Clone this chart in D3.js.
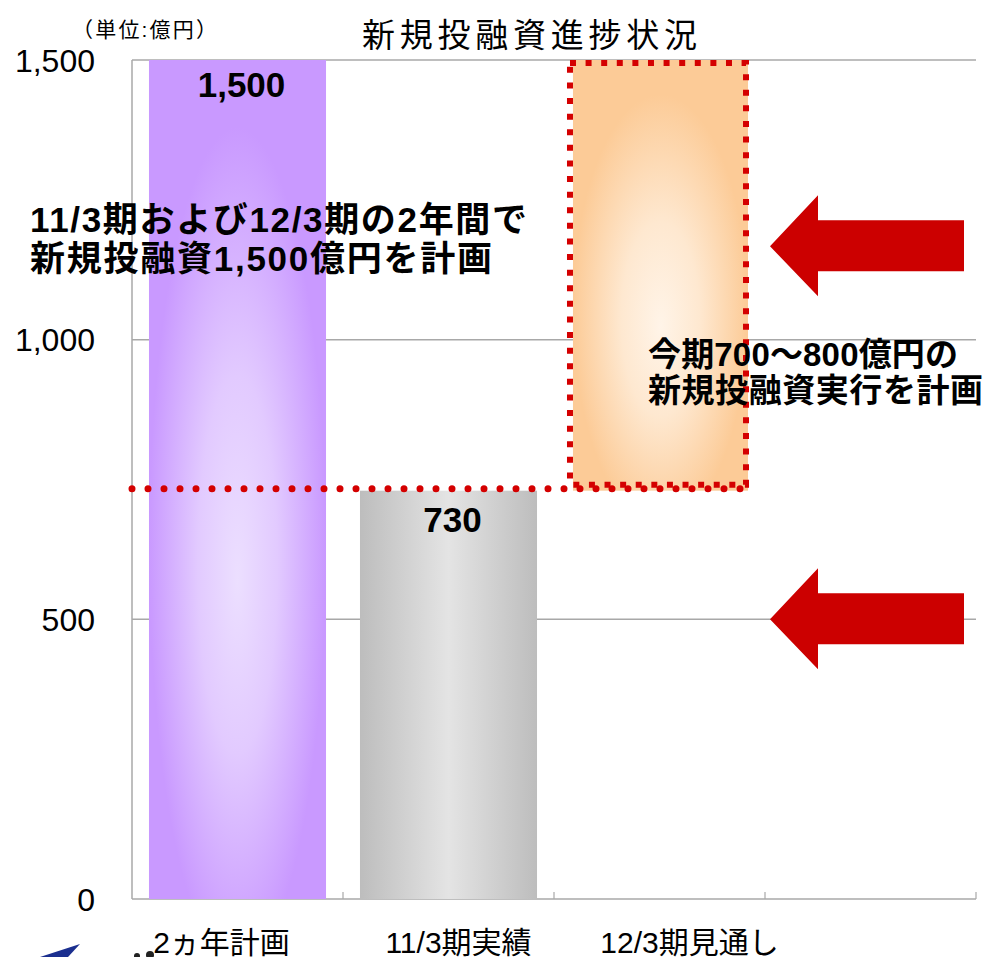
<!DOCTYPE html>
<html><head><meta charset="utf-8">
<script src="https://cdn.jsdelivr.net/npm/d3@7"></script>
<style>body{margin:0;background:#fff} svg{display:block}</style>
</head><body><svg id="c" width="989" height="957"></svg>
<script>
// ---- data ----
const slots = ["plan", "actual", "forecast", "blank"];
const catLabels = ["2ヵ年計画", "11/3期実績", "12/3期見通し"];
const planValue = [1500];
const actualValue = [730];
const forecastRange = [730, 1500];
const yTicks = [0, 500, 1000, 1500];
const tickLabels = ["0", "500", "1,000", "1,500"];
const valueLabels = ["1,500", "730"];
const titleText = "新規投融資進捗状況";
const unitText = "（単位:億円）";
const note1 = ["11/3期および12/3期の2年間で", "新規投融資1,500億円を計画"];
const note2 = ["今期700～800億円の", "新規投融資実行を計画"];
const arrowValues = [1167, 500];

// ---- setup ----
const svg = d3.select("#c");
const FONT = "'Liberation Sans','Noto Sans CJK JP',sans-serif";
const x = d3.scaleBand().domain(slots).range([132, 976]).paddingInner(0.161).paddingOuter(0.0805);
const y = d3.scaleLinear().domain([0, 1500]).range([899, 60]);

const defs = svg.append("defs");
function radial(id, inner, outer) {
  const g = defs.append("radialGradient").attr("id", id)
    .attr("cx", 0.5).attr("cy", 0.58).attr("r", 0.5).attr("fx", 0.5).attr("fy", 0.62);
  g.append("stop").attr("offset", 0).attr("stop-color", inner);
  g.append("stop").attr("offset", 0.45).attr("stop-color", d3.interpolateRgb(inner, outer)(0.3));
  g.append("stop").attr("offset", 1).attr("stop-color", outer);
}
radial("gPurple", "#ecdfff", "#c999ff");
radial("gOrange", "#fff4e8", "#fccb97");
const lg = defs.append("linearGradient").attr("id", "gGray").attr("x1", 0).attr("x2", 1).attr("y1", 0).attr("y2", 0);
lg.append("stop").attr("offset", 0).attr("stop-color", "#bdbdbd");
lg.append("stop").attr("offset", 0.5).attr("stop-color", "#e4e4e4");
lg.append("stop").attr("offset", 1).attr("stop-color", "#bdbdbd");

// gridlines
svg.append("g").selectAll("line").data(yTicks.filter(d => d > 0)).join("line")
  .attr("x1", 132).attr("x2", 976).attr("y1", d => y(d)).attr("y2", d => y(d))
  .attr("stroke", "#a8a8a8").attr("stroke-width", 1.5);
// axes lines
svg.append("line").attr("x1", 132).attr("x2", 132).attr("y1", y(1500)).attr("y2", y(0))
  .attr("stroke", "#a8a8a8").attr("stroke-width", 1.5);
svg.append("line").attr("x1", 132).attr("x2", 976).attr("y1", y(0)).attr("y2", y(0))
  .attr("stroke", "#a8a8a8").attr("stroke-width", 1.5);
// category boundary ticks
const bounds = slots.map(s => x(s) - x.step() * x.paddingOuter()).slice(1).concat([976]);
svg.append("g").selectAll("line").data(bounds).join("line")
  .attr("x1", d => d).attr("x2", d => d).attr("y1", y(0)).attr("y2", y(0) - 7)
  .attr("stroke", "#a8a8a8").attr("stroke-width", 1.2);

// y tick labels
svg.append("g").selectAll("text").data(yTicks).join("text")
  .attr("x", 95).attr("y", d => y(d)).attr("dy", "0.36em")
  .attr("text-anchor", "end").attr("font-family", FONT).attr("font-size", 32).attr("fill", "#000")
  .text((d, i) => tickLabels[i]);

// bars
svg.append("rect").attr("x", x("plan")).attr("width", x.bandwidth())
  .attr("y", y(planValue[0])).attr("height", y(0) - y(planValue[0])).attr("fill", "url(#gPurple)");
svg.append("rect").attr("x", x("actual")).attr("width", x.bandwidth())
  .attr("y", y(actualValue[0])).attr("height", y(0) - y(actualValue[0])).attr("fill", "url(#gGray)");
svg.append("rect").attr("x", x("forecast") + 2).attr("width", x.bandwidth() - 2)
  .attr("y", y(forecastRange[1])).attr("height", y(forecastRange[0]) - y(forecastRange[1])).attr("fill", "url(#gOrange)");

// value labels
svg.append("text").attr("x", x("plan") + x.bandwidth() / 2 + 4).attr("y", y(planValue[0]) + 37)
  .attr("text-anchor", "middle").attr("font-family", FONT).attr("font-weight", "bold").attr("font-size", 35)
  .text(valueLabels[0]);
svg.append("text").attr("x", x("actual") + x.bandwidth() / 2 + 4).attr("y", y(actualValue[0]) + 41)
  .attr("text-anchor", "middle").attr("font-family", FONT).attr("font-weight", "bold").attr("font-size", 35)
  .text(valueLabels[1]);

// round dotted line at 730
svg.append("line").attr("x1", 132).attr("x2", x("forecast") + x.bandwidth() - 6)
  .attr("y1", y(forecastRange[0]) - 2).attr("y2", y(forecastRange[0]) - 2)
  .attr("stroke", "#d40000").attr("stroke-width", 7).attr("stroke-linecap", "round")
  .attr("stroke-dasharray", "0 16");

// red square dotted box
svg.append("rect").attr("x", x("forecast") - 1).attr("width", x.bandwidth() - 1)
  .attr("y", y(forecastRange[1]) + 3).attr("height", y(forecastRange[0]) - y(forecastRange[1]) - 9)
  .attr("fill", "none").attr("stroke", "#d40000").attr("stroke-width", 6).attr("stroke-dasharray", "6 9.6");

// title and unit
svg.append("text").attr("x", 362).attr("y", 47).attr("font-family", FONT).attr("font-size", 33)
  .attr("textLength", 335).attr("lengthAdjust", "spacing").text(titleText);
svg.append("text").attr("x", 72).attr("y", 37).attr("font-family", FONT).attr("font-size", 21)
  .attr("textLength", 145).attr("lengthAdjust", "spacing").text(unitText);

// category labels
const catDx = [-16, 10, 30];
svg.append("g").selectAll("text").data(catLabels).join("text")
  .attr("x", (d, i) => x(slots[i]) + x.bandwidth() / 2 + catDx[i]).attr("y", 953)
  .attr("text-anchor", "middle").attr("font-family", FONT).attr("font-size", 30).text(d => d);

// notes
const n1 = svg.append("g").attr("font-family", FONT).attr("font-weight", "bold").attr("font-size", 35);
n1.append("text").attr("x", 30).attr("y", 232).attr("textLength", 497).attr("lengthAdjust", "spacing").text(note1[0]);
n1.append("text").attr("x", 30).attr("y", 271).attr("textLength", 462).attr("lengthAdjust", "spacing").text(note1[1]);
const n2 = svg.append("g").attr("font-family", FONT).attr("font-weight", "bold").attr("font-size", 33);
n2.append("text").attr("x", 648).attr("y", 366).attr("textLength", 310).attr("lengthAdjust", "spacing").text(note2[0]);
n2.append("text").attr("x", 648).attr("y", 402).attr("textLength", 335).attr("lengthAdjust", "spacing").text(note2[1]);

// arrows
const arrow = d3.line();
arrowValues.forEach(v => {
  const cy = y(v);
  const pts = [[770, cy], [818, cy - 51], [818, cy - 26], [964, cy - 26], [964, cy + 25], [818, cy + 25], [818, cy + 50], [770, cy]];
  svg.append("path").attr("d", arrow(pts) + "Z").attr("fill", "#cc0000");
});

// partial logo at bottom-left
svg.append("path").attr("d", "M40,957 L80,944 L68,957 Z").attr("fill", "#1b2f8f");
svg.append("circle").attr("cx", 137).attr("cy", 956).attr("r", 3).attr("fill", "#222");
svg.append("circle").attr("cx", 150).attr("cy", 955).attr("r", 4).attr("fill", "#222");
</script></body></html>
